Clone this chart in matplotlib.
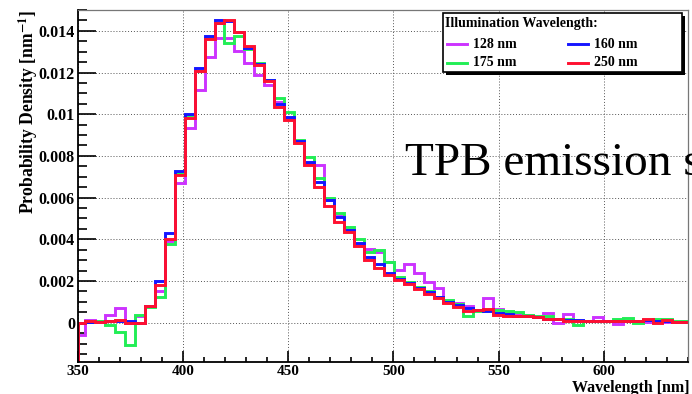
import matplotlib
matplotlib.use("Agg")
import matplotlib.pyplot as plt
from matplotlib.patches import Rectangle
from matplotlib.lines import Line2D
from matplotlib.ticker import MultipleLocator, FuncFormatter
import numpy as np

plt.rcParams['font.family'] = 'Liberation Serif'
plt.rcParams['font.weight'] = 'bold'
plt.rcParams['mathtext.fontset'] = 'stix'

# histogram bins (nm), clipped to the shown range
bin_start = 348.8
bin_width = 4.73
n_bins = 62
edges = np.clip(bin_start + bin_width * np.arange(n_bins + 1), 350, 640)

# probability density, units of 1e-3 nm^-1
dens_128 = [-0.6, 0.15, 0.1, 0.35, 0.7, 0.0, 0.3, 0.8, 1.5, 3.9,
            6.7, 9.36, 11.17, 12.74, 13.68, 13.68, 13.04, 12.45, 11.89, 11.4,
            10.6, 9.8, 8.7, 7.65, 7.57, 5.9, 5.1, 4.45, 3.75, 3.52,
            3.4, 2.9, 2.55, 2.8, 2.4, 1.95, 1.65, 1.05, 0.95, 0.8,
            0.6, 1.17, 0.65, 0.5, 0.4, 0.35, 0.3, 0.45, 0.0, 0.4,
            0.1, 0.1, 0.25, 0.1, -0.08, 0.1, 0.1, 0.05, 0.1, 0.05,
            0.05, 0.05]
dens_160 = [0.0, 0.05, 0.05, 0.1, 0.1, 0.1, 0.0, 0.8, 2.0, 4.3,
            7.3, 10.0, 12.2, 13.73, 14.5, 14.45, 13.94, 13.2, 12.4, 11.62,
            10.5, 9.86, 8.7, 7.73, 6.77, 5.89, 5.09, 4.45, 3.84, 3.17,
            2.8, 2.4, 2.1, 1.9, 1.65, 1.45, 1.25, 1.0, 0.85, 0.7,
            0.6, 0.55, 0.45, 0.4, 0.3, 0.3, 0.25, 0.2, 0.2, 0.15,
            0.15, 0.1, 0.1, 0.1, 0.1, 0.1, 0.1, 0.15, 0.1, 0.1,
            0.05, 0.05]
dens_175 = [0.0, 0.1, 0.1, -0.1, -0.45, -1.07, 0.37, 0.77, 1.25, 3.78,
            7.17, 9.97, 12.05, 13.65, 14.37, 13.4, 13.76, 13.12, 12.48, 11.65,
            10.77, 10.1, 8.77, 7.97, 6.93, 5.97, 5.28, 4.58, 4.0, 3.41,
            3.49, 2.9, 2.2, 1.95, 1.7, 1.5, 1.25, 1.1, 0.9, 0.3,
            0.55, 0.6, 0.6, 0.55, 0.53, 0.35, 0.3, 0.3, 0.2, 0.2,
            -0.1, 0.1, 0.1, 0.1, 0.2, 0.22, -0.03, 0.13, 0.18, 0.18,
            0.08, 0.08]
dens_250 = [0.0, 0.1, 0.05, 0.1, 0.15, 0.0, 0.0, 0.8, 1.8, 4.0,
            7.1, 9.84, 12.05, 13.62, 14.4, 14.5, 13.94, 13.25, 12.34, 11.6,
            10.37, 9.73, 8.6, 7.57, 6.5, 5.6, 4.85, 4.37, 3.7, 3.0,
            2.6, 2.3, 2.05, 1.85, 1.6, 1.4, 1.2, 0.95, 0.74, 0.55,
            0.6, 0.65, 0.35, 0.33, 0.32, 0.3, 0.28, 0.2, 0.2, 0.1,
            0.1, 0.1, 0.08, 0.1, 0.1, 0.1, 0.08, 0.2, 0.0, 0.12,
            0.05, 0.05]

labels = ['128 nm', '160 nm', '175 nm', '250 nm']
colors = {'128 nm': '#cc33ff', '160 nm': '#1515ff',
          '175 nm': '#22ee55', '250 nm': '#ff1030'}
series = {'128 nm': dens_128, '160 nm': dens_160,
          '175 nm': dens_175, '250 nm': dens_250}
draw_order = ['128 nm', '175 nm', '160 nm', '250 nm']

x_min, x_max = 350, 640
y_min, y_max = -0.0019, 0.0150

W, H = 692, 394
fig = plt.figure(figsize=(W / 100, H / 100), dpi=100)


def px(x, y):
    return x / W, 1 - y / H


ax = fig.add_axes([77.7 / W, 1 - 362.3 / H, (688 - 77.7) / W, (362.3 - 10) / H])

for lab in draw_order:
    vals = np.array(series[lab]) * 1e-3
    xs = np.r_[edges[0], edges]
    ys = np.r_[y_min, vals, vals[-1]]
    ax.plot(xs, ys, drawstyle='steps-post', color=colors[lab], lw=2.1,
            solid_joinstyle='miter')

ax.set_xlim(x_min, x_max)
ax.set_ylim(y_min, y_max)

ax.xaxis.set_major_locator(MultipleLocator(50))
ax.xaxis.set_minor_locator(MultipleLocator(10))
ax.yaxis.set_major_locator(MultipleLocator(0.002))
ax.yaxis.set_minor_locator(MultipleLocator(0.0005))
ax.yaxis.set_major_formatter(FuncFormatter(lambda v, p: '%g' % round(v, 4)))

ax.grid(True, which='major', linestyle=(0, (1, 2)), color='#555555', lw=0.7)
ax.set_axisbelow(True)

ax.tick_params(axis='y', which='major', direction='in', length=13, width=1.2,
               labelsize=11.5, pad=2)
ax.tick_params(axis='y', which='minor', direction='in', length=6.5, width=1.2)
ax.tick_params(axis='x', which='major', direction='in', length=7.6, width=1.2,
               labelsize=11, pad=2)
ax.tick_params(axis='x', which='minor', direction='in', length=3.8, width=1.2)
for t in ax.get_xticklabels() + ax.get_yticklabels():
    t.set_fontweight('bold')

ax.spines['left'].set_linewidth(1.3)
ax.spines['bottom'].set_linewidth(1.3)
for s in ['top', 'right']:
    ax.spines[s].set_linewidth(0.9)
    ax.spines[s].set_color('#777777')

fig.text(*px(28, 10), r'Probability Density [nm$^{\mathbf{-1}}$]',
         rotation=90, ha='center', va='top', fontsize=12.7, fontweight='bold')
fig.text(*px(690, 391.5), 'Wavelength [nm]', ha='right', va='baseline',
         fontsize=11.5, fontweight='bold')
fig.text(*px(405, 175), 'TPB emission spectrum', ha='left', va='baseline',
         fontsize=34, fontweight='normal')

# legend box, ROOT style with a solid shadow
fig.patches.append(Rectangle(px(446, 75), 239 / W, 59 / H, transform=fig.transFigure,
                             facecolor='black', edgecolor='none', zorder=5))
fig.patches.append(Rectangle(px(443, 72), 239 / W, 59 / H, transform=fig.transFigure,
                             facecolor='white', edgecolor='black', lw=1.2, zorder=6))
fig.text(*px(445, 23), 'Illumination Wavelength:', ha='left', va='center',
         fontsize=10, fontweight='bold', zorder=7)
legend_slots = {'128 nm': (447, 44), '160 nm': (568, 44),
                '175 nm': (447, 63), '250 nm': (568, 63)}
for lab in labels:
    lx, ly = legend_slots[lab]
    x0, y0 = px(lx, ly)
    x1, _ = px(lx + 20, ly)
    fig.lines.append(Line2D([x0, x1], [y0, y0], transform=fig.transFigure,
                            color=colors[lab], lw=2.1, zorder=7))
    fig.text(*px(lx + 26, ly), lab, ha='left', va='center',
             fontsize=10, fontweight='bold', zorder=7)

fig.savefig('out.png', dpi=100)
